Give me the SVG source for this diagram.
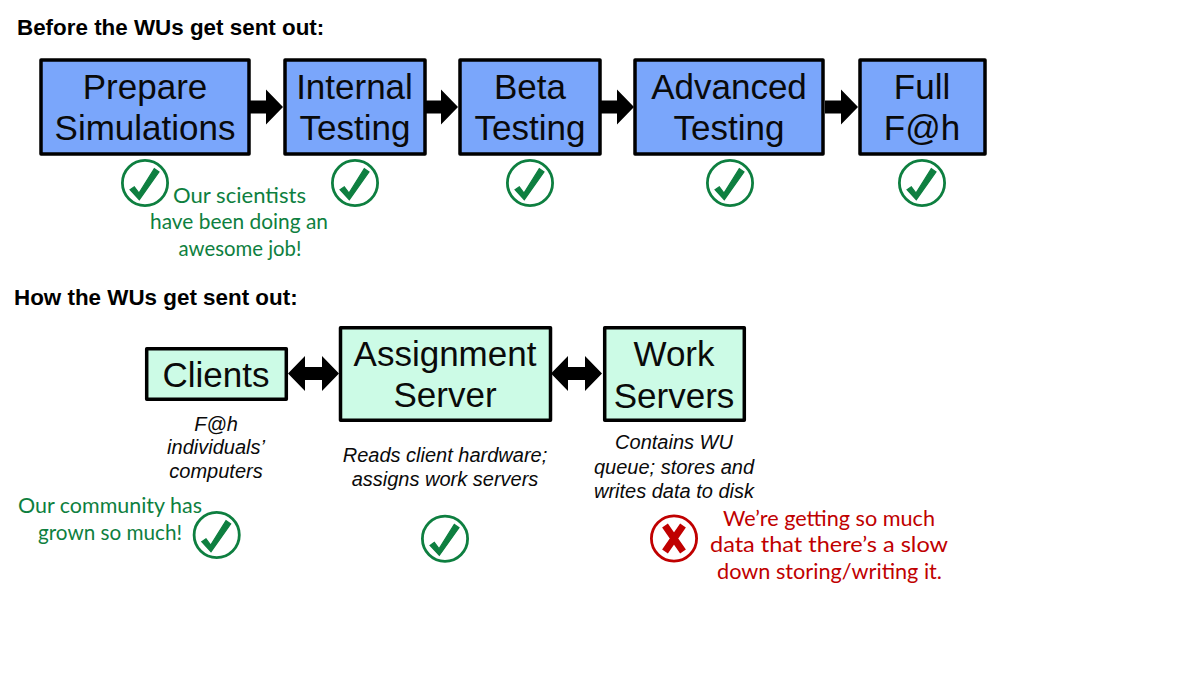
<svg xmlns="http://www.w3.org/2000/svg" width="1200" height="675" viewBox="0 0 1200 675">
<style>
text{font-family:"Liberation Sans",Arial,sans-serif;text-anchor:middle;fill:#0a0a0a}
.h{font-weight:bold;font-size:22.4px;text-anchor:start;fill:#000}
.b{font-size:35px}
.n{font-size:20px;font-style:italic}
.box{stroke:#000;stroke-width:3.500;stroke-linejoin:round}
.blue{fill:#7AA6FB}
.mint{fill:#CCFBE6}
.hand{font-family:"Lato","Open Sans",sans-serif;font-size:22px}
text.g{fill:#0E7F40}
text.r{fill:#C00000}
.ring-g{fill:none;stroke:#0E7F40;stroke-width:2.800}
.ring-r{fill:none;stroke:#C00000;stroke-width:2.800}
.tick{fill:#0E7F40;stroke:#0E7F40;stroke-width:1.200}
.x{fill:none;stroke:#C00000;stroke-width:7}
</style>
<defs>
<g id="ok"><circle r="22.600" class="ring-g"/><path class="tick" d="M-15 6.700L-10.700 3.700L-6 10L9.300-14.300L14-11L-5.700 16.700Z"/></g>
<g id="no"><circle r="22.600" class="ring-r"/><path class="x" d="M-9-13L9 13M9-13L-9 13"/></g>
<path id="one" d="M0-6.500H16V-17.500L33 0L16 17.500V6.500H0Z" fill="#000"/>
<path id="two" d="M0 0L17-17.500V-6.500H34V-17.500L51 0L34 17.500V6.500H17V17.500Z" fill="#000"/>
</defs>
<rect width="1200" height="675" fill="#fff"/>
<text class="h" x="17" y="35">Before the WUs get sent out:</text>
<text class="h" x="14" y="305">How the WUs get sent out:</text>
<g id="connectors">
<use href="#one" x="250" y="107"/>
<use href="#one" x="425" y="107"/>
<use href="#one" x="601" y="107"/>
<use href="#one" x="825" y="107"/>
<use href="#two" x="288" y="373.500"/>
<use href="#two" x="551" y="373.500"/>
</g>
<g id="prepare"><rect class="box blue" x="41" y="60" width="208" height="94"/><text class="b" x="145" y="98.500">Prepare</text><text class="b" x="145" y="139.500">Simulations</text></g>
<g id="internal"><rect class="box blue" x="285" y="60" width="140" height="94"/><text class="b" x="354.500" y="98.500">Internal</text><text class="b" x="355" y="139.500">Testing</text></g>
<g id="beta"><rect class="box blue" x="460" y="60" width="140" height="94"/><text class="b" x="530" y="98.500">Beta</text><text class="b" x="530" y="139.500">Testing</text></g>
<g id="advanced"><rect class="box blue" x="635" y="60" width="188" height="94"/><text class="b" x="729" y="98.500">Advanced</text><text class="b" x="729" y="139.500">Testing</text></g>
<g id="full"><rect class="box blue" x="860" y="60" width="125" height="94"/><text class="b" x="922" y="98.500">Full</text><text class="b" x="922" y="139.500">F@h</text></g>
<g id="clients"><rect class="box mint" x="146.700" y="348.700" width="139.600" height="50.600"/><text class="b" x="216" y="386.500">Clients</text></g>
<g id="assignment"><rect class="box mint" x="340.500" y="327.700" width="210" height="92.600"/><text class="b" x="445" y="366">Assignment</text><text class="b" x="445" y="407">Server</text></g>
<g id="work"><rect class="box mint" x="604.700" y="327.700" width="139.600" height="92.600"/><text class="b" x="674" y="366">Work</text><text class="b" x="674" y="407.500">Servers</text></g>
<g id="notes">
<text class="n" x="216" y="430.500">F@h</text><text class="n" x="216" y="454">individuals’</text><text class="n" x="216" y="477.500">computers</text>
<text class="n" x="445" y="461.500">Reads client hardware;</text><text class="n" x="445" y="485.500">assigns work servers</text>
<text class="n" x="674" y="449">Contains WU</text><text class="n" x="674" y="473.500">queue; stores and</text><text class="n" x="674" y="497.500">writes data to disk</text>
</g>
<g id="checks">
<use href="#ok" x="145" y="183"/><use href="#ok" x="355" y="183"/><use href="#ok" x="530" y="183"/><use href="#ok" x="730" y="183"/><use href="#ok" x="922" y="183"/>
<use href="#ok" x="216.700" y="535"/><use href="#ok" x="445" y="538.700"/><use href="#no" x="674" y="538.500"/>
</g>
<g id="comments">
<text class="hand g" x="239.500" y="203" textLength="133" lengthAdjust="spacingAndGlyphs">Our scientists</text>
<text class="hand g" x="239" y="229" textLength="178" lengthAdjust="spacingAndGlyphs">have been doing an</text>
<text class="hand g" x="240" y="256" textLength="123" lengthAdjust="spacingAndGlyphs">awesome job!</text>
<text class="hand g" x="110" y="513" textLength="184" lengthAdjust="spacingAndGlyphs">Our community has</text>
<text class="hand g" x="110" y="540" textLength="144" lengthAdjust="spacingAndGlyphs">grown so much!</text>
<text class="hand r" x="829" y="526" textLength="212" lengthAdjust="spacingAndGlyphs">We’re getting so much</text>
<text class="hand r" x="829" y="552" textLength="238" lengthAdjust="spacingAndGlyphs">data that there’s a slow</text>
<text class="hand r" x="829.500" y="579" textLength="225" lengthAdjust="spacingAndGlyphs">down storing/writing it.</text>
</g>
</svg>
